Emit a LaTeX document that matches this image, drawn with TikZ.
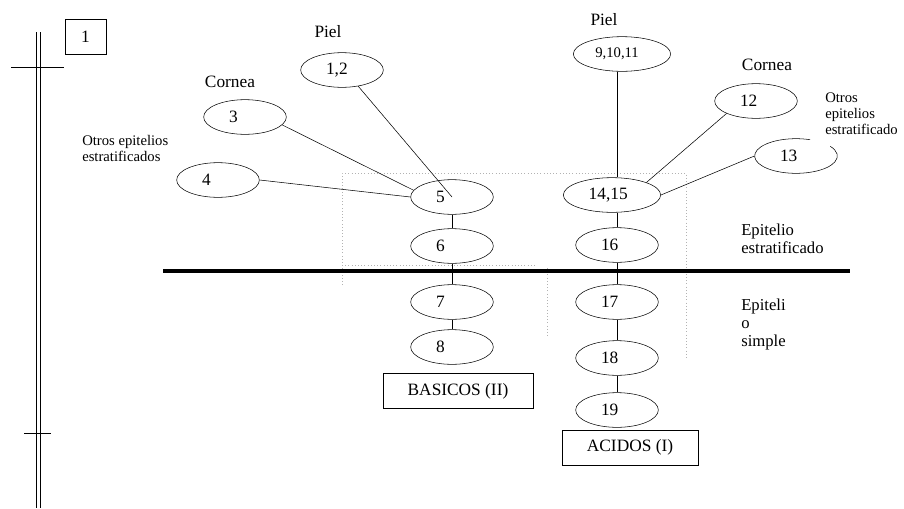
\documentclass[tikz,border=0pt]{standalone}
\usepackage{fontspec}
\setmainfont{Liberation Serif}
\usetikzlibrary{shapes.geometric}

\begin{document}
\begin{tikzpicture}[x=0.75pt,y=-0.75pt,
  elip/.style={draw,ellipse,minimum width=62pt,minimum height=26pt,inner sep=0pt,
               text width=#1,align=left,font=\fontsize{13}{15}\selectfont},elip/.default=24pt,
  caja/.style={draw,minimum height=26.5pt,inner sep=0pt,font=\fontsize{13}{15}\selectfont},
  etq/.style={font=\fontsize{13}{15}\selectfont},
  nota/.style={align=left,anchor=west,inner sep=0pt,font=\fontsize{11}{12.5}\selectfont},
  epit/.style={nota,font=\fontsize{12.5}{13.3}\selectfont},
  marco/.style={gray!60,dotted}]
  \useasboundingbox (0,0) rectangle (904,508);
  % escala de la izquierda
  \draw (36.5,32) -- (36.5,508) (40.5,32) -- (40.5,508);
  \draw (11,67) -- (64,67) (24,433) -- (51,433);
  \node[caja,minimum width=30.75pt] (uno) at (85.5,36.5) {1};
  % recuadro punteado y linea gruesa
  \draw[marco] (342,285) -- (342,173) -- (686,173) -- (686,358);
  \draw[marco] (342,265) -- (535,265);
  \draw[marco] (547,268) -- (547,337);
  \draw[line width=3pt] (163,271) -- (850,271);
  % basicos
  \node[elip] (e1) at (342,70) {1,2};
  \node[elip] (e3) at (245,117) {3};
  \node[elip] (e4) at (218,180) {4};
  \node[elip] (e5) at (452,197) {5};
  \node[elip] (e6) at (452,246) {6};
  \node[elip] (e7) at (452,302) {7};
  \node[elip] (e8) at (452,347) {8};
  \node[caja,minimum width=112.5pt] (bas) at (458,391) {BASICOS (II)};
  % acidos
  \node[elip=40pt,minimum width=73pt,font=\fontsize{11}{13}\selectfont] (e9) at (622,54) {9,10,11};
  \node[elip=35pt,minimum width=73pt] (e14) at (612,195) {14,15};
  \node[elip] (e12) at (756,101) {12};
  \node[elip,draw=none] (e13) at (796,156) {13};
  \draw ([shift={(70:31pt and 13pt)}]e13.center) arc[start angle=70,end angle=394,x radius=31pt,y radius=13pt];
  \node[elip] (e16) at (617,245) {16};
  \node[elip] (e17) at (617,302) {17};
  \node[elip] (e18) at (617,358) {18};
  \node[elip] (e19) at (617,410) {19};
  \node[caja,minimum width=102pt] (aci) at (630,447.5) {ACIDOS (I)};
  % rotulos
  \node[etq] (piel1) at (328,32) {Piel};
  \node[etq] (piel2) at (604,20) {Piel};
  \node[etq] (cor1) at (230,82) {Cornea};
  \node[etq] (cor2) at (767,65) {Cornea};
  \node[nota] (otr1) at (82,148.5) {Otros epitelios\\estratificados};
  \node[nota,font=\fontsize{11}{12}\selectfont] (otr2) at (825,114) {Otros\\epitelios\\estratificado};
  \node[epit] (estr) at (741,239) {Epitelio\\estratificado};
  \node[epit] (simp) at (741,324.5) {Epiteli\\o\\simple};
  % conexiones
  \draw (e1.-45) -- (e5.center);
  \draw (e3.-12) -- (e5.170);
  \draw (e4.east) -- (e5.west);
  \draw (e9.south -| e16) -- (e14.north -| e16);
  \draw (e12.south west) -- (e14.20);
  \draw (e13.west) -- (e14.east);
  \foreach \a/\b in {e5/e6,e6/e7,e7/e8,e14/e16,e16/e17,e17/e18,e18/e19}
    \draw (\a.south -| \b) -- (\b.north);
\end{tikzpicture}
\end{document}
